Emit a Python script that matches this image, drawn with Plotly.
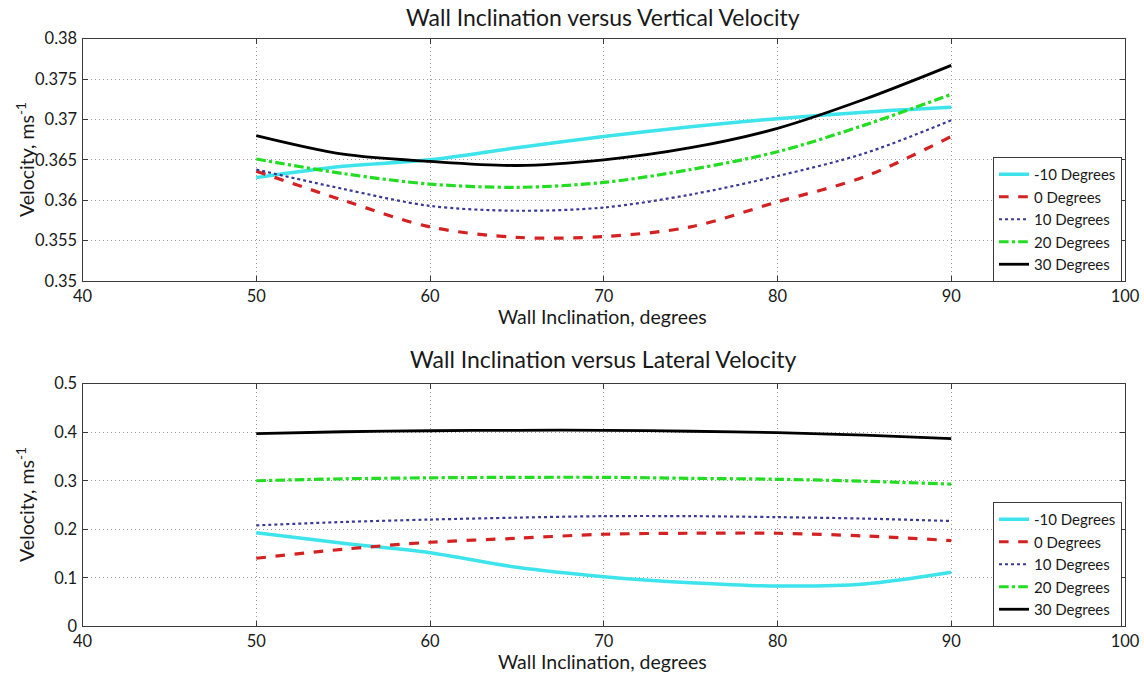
import plotly.graph_objects as go

# Wall inclination (degrees) sampled along each curve
inclination = [50, 55, 60, 65, 70, 75, 80, 85, 90]

series_names = ["-10 Degrees", "0 Degrees", "10 Degrees", "20 Degrees", "30 Degrees"]

# Vertical velocity, m/s
vert_m10 = [0.3628, 0.3642, 0.3650, 0.3665, 0.3679, 0.3691, 0.3701, 0.3709, 0.3715]
vert_0 = [0.3636, 0.3600, 0.3567, 0.3554, 0.3555, 0.3567, 0.3598, 0.3629, 0.3679]
vert_10 = [0.3638, 0.3614, 0.3593, 0.3587, 0.3591, 0.3607, 0.3630, 0.3658, 0.3699]
vert_20 = [0.3651, 0.3633, 0.3620, 0.3616, 0.3622, 0.3638, 0.3660, 0.3693, 0.3731]
vert_30 = [0.3680, 0.3657, 0.3648, 0.3643, 0.3650, 0.3665, 0.3689, 0.3725, 0.3767]

# Lateral velocity, m/s
lat_m10 = [0.1930, 0.1711, 0.1518, 0.1216, 0.1023, 0.0899, 0.0831, 0.0872, 0.1113]
lat_0 = [0.1402, 0.1588, 0.1732, 0.1814, 0.1897, 0.1918, 0.1918, 0.1862, 0.1766]
lat_10 = [0.208, 0.215, 0.220, 0.224, 0.227, 0.227, 0.225, 0.222, 0.217]
lat_20 = [0.300, 0.304, 0.306, 0.307, 0.307, 0.305, 0.303, 0.299, 0.293]
lat_30 = [0.397, 0.401, 0.403, 0.404, 0.404, 0.402, 0.399, 0.394, 0.387]

x_ticks = [40, 50, 60, 70, 80, 90, 100]
vert_ticks = [0.35, 0.355, 0.36, 0.365, 0.37, 0.375, 0.38]
vert_tick_text = ["0.35", "0.355", "0.36", "0.365", "0.37", "0.375", "0.38"]
lat_ticks = [0, 0.1, 0.2, 0.3, 0.4, 0.5]
lat_tick_text = ["0", "0.1", "0.2", "0.3", "0.4", "0.5"]

styles = [
    dict(color="#3ee4ec", width=3.5, dash="solid"),
    dict(color="#d42222", width=3.2, dash="dash"),
    dict(color="#3a3a96", width=2.2, dash="dot"),
    dict(color="#22dd22", width=3.2, dash="dashdot"),
    dict(color="#000000", width=2.8, dash="solid"),
]

FONT = "Lato"
TXT = "#1a1a1a"
W, H = 1144, 673

fig = go.Figure()

for name, ys, st in zip(series_names, [vert_m10, vert_0, vert_10, vert_20, vert_30], styles):
    fig.add_trace(go.Scatter(x=inclination, y=ys, name=name, mode="lines",
                             line=dict(shape="spline", smoothing=0.9, **st),
                             xaxis="x", yaxis="y", legend="legend"))

for name, ys, st in zip(series_names, [lat_m10, lat_0, lat_10, lat_20, lat_30], styles):
    fig.add_trace(go.Scatter(x=inclination, y=ys, name=name, mode="lines",
                             line=dict(shape="spline", smoothing=0.9, **st),
                             xaxis="x2", yaxis="y2", legend="legend2"))

axis_common = dict(
    showline=True, linecolor="#3a3a3a", linewidth=1, mirror="ticks",
    ticks="inside", ticklen=5, tickcolor="#3a3a3a",
    showgrid=True, gridcolor="#9a9a9a", gridwidth=1, griddash="1px,3px",
    zeroline=False, automargin=False,
    tickfont=dict(family=FONT, size=16.5, color=TXT),
)

x_dom = [82.5 / W, 1125 / W]

legend_common = dict(
    xanchor="right", yanchor="bottom",
    bgcolor="white", bordercolor="#3a3a3a", borderwidth=1,
    font=dict(family=FONT, size=15, color=TXT), itemwidth=30, tracegroupgap=0,
)

fig.update_layout(
    width=W, height=H, autosize=False,
    margin=dict(l=0, r=0, t=0, b=0, pad=0),
    paper_bgcolor="white", plot_bgcolor="white",
    font=dict(family=FONT, color=TXT),
    xaxis=dict(domain=x_dom, range=[40, 100], tickvals=x_ticks, anchor="y", **axis_common),
    yaxis=dict(domain=[1 - 281 / H, 1 - 38.7 / H], range=[0.35, 0.38],
               tickvals=vert_ticks, ticktext=vert_tick_text, anchor="x",
               ticklabelstandoff=1, **axis_common),
    xaxis2=dict(domain=x_dom, range=[40, 100], tickvals=x_ticks, anchor="y2", **axis_common),
    yaxis2=dict(domain=[1 - 626.3 / H, 1 - 383.7 / H], range=[0, 0.5],
                tickvals=lat_ticks, ticktext=lat_tick_text, anchor="x2",
                ticklabelstandoff=1, **axis_common),
    legend=dict(x=1122 / W, y=1 - 282 / H, **legend_common),
    legend2=dict(x=1122 / W, y=1 - 627 / H, **legend_common),
    showlegend=True,
)

# Titles and axis labels
labels = [
    ("Wall Inclination versus Vertical Velocity", 603, 17, 23, 0),
    ("Wall Inclination, degrees", 602, 316, 19.5, 0),
    ("Wall Inclination versus Lateral Velocity", 603, 359, 23, 0),
    ("Wall Inclination, degrees", 602, 661, 19.5, 0),
    ("Velocity, ms<sup>-1</sup>", 25, 160, 19.5, -90),
    ("Velocity, ms<sup>-1</sup>", 25, 505, 19.5, -90),
]
for text, px, py, size, ang in labels:
    fig.add_annotation(text=text, x=px / W, y=1 - py / H, xref="paper", yref="paper",
                       xanchor="center", yanchor="middle", showarrow=False, textangle=ang,
                       font=dict(family=FONT, size=size, color=TXT))

fig.write_html("out.html")
